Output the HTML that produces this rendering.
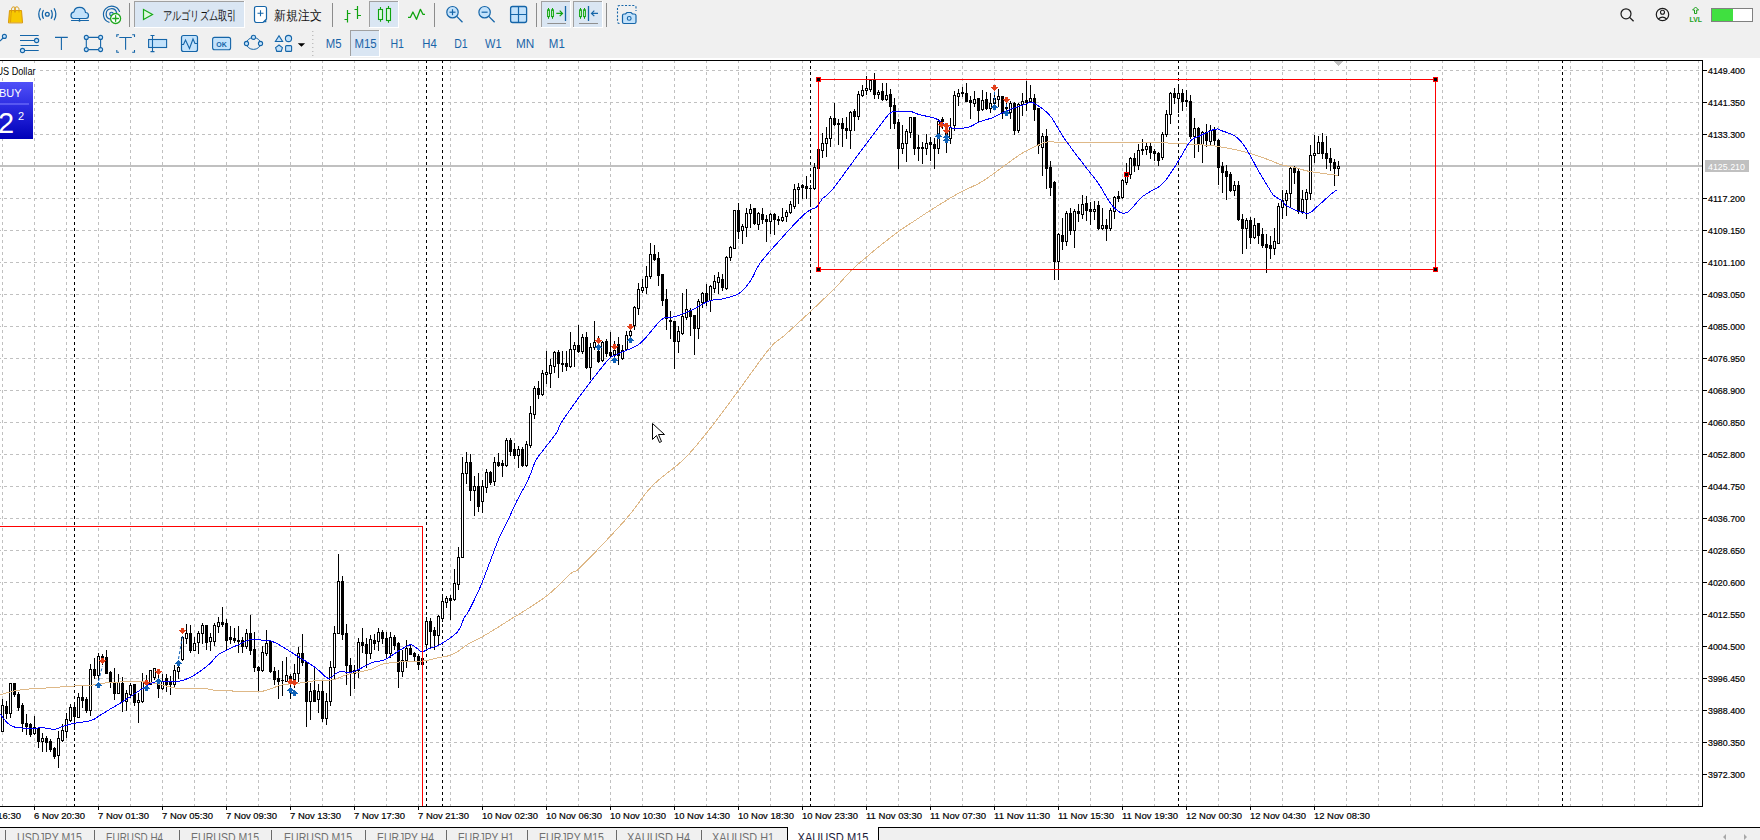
<!DOCTYPE html><html><head><meta charset="utf-8"><style>
html,body{margin:0;padding:0;}body{width:1760px;height:840px;overflow:hidden;background:#fff;position:relative;font-family:"Liberation Sans",sans-serif;}
svg{position:absolute;left:0;top:0;}
.t{font-family:"Liberation Sans",sans-serif;}
</style></head><body>
<svg width="1760" height="840" viewBox="0 0 1760 840">
<rect x="0" y="0" width="1760" height="58" fill="#f0f0f0"/>
<g id="toolbar"><g fill="none" stroke-linecap="round" stroke-linejoin="round"><path d="M8.5 22.5L9.5 10.5H21.5L22.5 22.5Z" fill="#f7c800" stroke="#d9980a" stroke-width="1"/><path d="M10.5 22L11.3 11" stroke="#d9980a" stroke-width="0.8"/><path d="M11.5 12V9.5C11.5 6 15.5 6 15.5 9.5V12M14.5 12V9.5C14.5 6 19 6 19 9.5V12" stroke="#d9980a" stroke-width="1"/><circle cx="47.3" cy="14.3" r="1.9" stroke="#1565a8" stroke-width="1.3"/><path d="M43.3 10.5Q41.3 14.3 43.3 18.3M51.3 10.5Q53.3 14.3 51.3 18.3M40.3 8.8Q37.2 14.3 40.3 19.8M54.3 8.8Q57.4 14.3 54.3 19.8" stroke="#1565a8" stroke-width="1.3"/><path d="M73.5 18.5H86Q88.5 18.5 88.5 15.5Q88.5 12.5 85.5 12.5Q85 7.3 79.5 7.3Q74.5 7.3 74 11.8Q71 12.3 71 15.3Q71 18.5 73.5 18.5Z" fill="#c3e2fb" stroke="#1565a8" stroke-width="1.2"/><path d="M71.5 20.5H88.5M79.5 18.5V20.5" stroke="#1565a8" stroke-width="1.2"/><circle cx="79.5" cy="20.7" r="1" fill="#1565a8"/><path d="M109 22.3A8.3 8.3 0 1 1 119.5 11.5M110.3 19.2A5.3 5.3 0 1 1 116.6 12.7" stroke="#1565a8" stroke-width="1.2"/><circle cx="111.5" cy="14" r="1.8" fill="#c3e2fb" stroke="#1565a8" stroke-width="1.1"/><circle cx="115.6" cy="18.5" r="5" fill="#fff" stroke="#1fa81f" stroke-width="1.3"/><path d="M115.6 15.7V21.3M112.8 18.5H118.4" stroke="#1fa81f" stroke-width="1.3"/></g><g shape-rendering="crispEdges"><rect x="129" y="3" width="1" height="24" fill="#8c8c8c"/><rect x="332" y="3" width="1" height="24" fill="#8c8c8c"/><rect x="434" y="3" width="1" height="24" fill="#8c8c8c"/><rect x="536" y="3" width="1" height="24" fill="#8c8c8c"/><rect x="606" y="3" width="1" height="24" fill="#8c8c8c"/><rect x="134" y="1" width="111" height="27" fill="#fff"/><rect x="134" y="1" width="110" height="26" fill="#a0a0a0"/><rect x="135" y="2" width="109" height="25" fill="#dae6f3"/><rect x="369" y="1" width="30" height="27" fill="#fff"/><rect x="369" y="1" width="29" height="26" fill="#a0a0a0"/><rect x="370" y="2" width="28" height="25" fill="#dae6f3"/><rect x="541" y="1" width="30" height="27" fill="#fff"/><rect x="541" y="1" width="29" height="26" fill="#a0a0a0"/><rect x="542" y="2" width="28" height="25" fill="#dae6f3"/><rect x="573" y="1" width="30" height="27" fill="#fff"/><rect x="573" y="1" width="29" height="26" fill="#a0a0a0"/><rect x="574" y="2" width="28" height="25" fill="#dae6f3"/><rect x="350" y="30" width="30" height="27" fill="#fff"/><rect x="350" y="30" width="29" height="26" fill="#a0a0a0"/><rect x="351" y="31" width="28" height="25" fill="#dae6f3"/></g><g fill="none" stroke-linecap="butt" stroke-linejoin="miter"><path d="M143.5 9.5L152.5 14.5L143.5 19.5Z" fill="#defadf" stroke="#18aa18" stroke-width="1.2"/><path d="M256.5 6.5H264.5Q266.5 6.5 266.5 8.5V19L263 22.5H256.5Q254.5 22.5 254.5 20.5V8.5Q254.5 6.5 256.5 6.5Z" fill="#fff" stroke="#1565a8" stroke-width="1.2"/><path d="M263.3 22.3L266.3 19.3V22.3Z" fill="#1565a8"/><path d="M260.5 10.3V16.3M257.5 13.3H263.5" stroke="#1565a8" stroke-width="1.1"/><path d="M347.5 10V22.5M344.5 19.5H347.5M347.5 13.5H350.5M357.5 6V19M354.5 9.5H357.5M357.5 15.5H361" stroke="#0fa30f" stroke-width="1.2"/><path d="M380.5 7V21.8M388.5 6V22.7" stroke="#0fa30f" stroke-width="1.1"/><rect x="378.5" y="9.5" width="4" height="10" fill="#defadf" stroke="#0fa30f" stroke-width="1.1"/><rect x="386.5" y="8.5" width="4" height="12" fill="#defadf" stroke="#0fa30f" stroke-width="1.1"/><polyline points="408,17.3 410.4,17.3 412.9,12 416.5,19.3 420.4,9.3 422.9,14.3 425,14.3" stroke="#0fa30f" stroke-width="1.3" stroke-linejoin="round"/><circle cx="452.5" cy="12.2" r="5.7" fill="#c3e2fb" stroke="#1565a8" stroke-width="1.2"/><path d="M456.7 16.4L462.5 22.3" stroke="#1565a8" stroke-width="1.3"/><path d="M449.5 12.2H455.5" stroke="#1565a8" stroke-width="1.2"/><path d="M452.5 9.2V15.2" stroke="#1565a8" stroke-width="1.2"/><circle cx="484.6" cy="12.2" r="5.7" fill="#c3e2fb" stroke="#1565a8" stroke-width="1.2"/><path d="M488.8 16.4L494.6 22.3" stroke="#1565a8" stroke-width="1.3"/><path d="M481.6 12.2H487.6" stroke="#1565a8" stroke-width="1.2"/><rect x="510.6" y="6.5" width="16" height="16" rx="2" fill="#c3e2fb" stroke="#1565a8" stroke-width="1.3"/><path d="M518.5 6.5V22.5M510.6 14.5H526.6" stroke="#1565a8" stroke-width="1.2"/><path d="M548.5 8V18.8" stroke="#0fa30f" stroke-width="1"/><rect x="547.6" y="9.8" width="1.8" height="6.8" fill="#defadf" stroke="#0fa30f" stroke-width="1"/><path d="M552.5 8V18.8" stroke="#0fa30f" stroke-width="1"/><rect x="551.6" y="9.8" width="1.8" height="6.8" fill="#defadf" stroke="#0fa30f" stroke-width="1"/><path d="M556.3 13.4H562.5M559.7 10.6L562.5 13.4L559.7 16.2" stroke="#0fa30f" stroke-width="1.2"/><path d="M565.5 6V21" stroke="#1565a8" stroke-width="1.3"/><path d="M547.3 23.5H566" stroke="#909090" stroke-width="1"/><path d="M580.5 8V18.8" stroke="#0fa30f" stroke-width="1"/><rect x="579.6" y="9.8" width="1.8" height="6.8" fill="#defadf" stroke="#0fa30f" stroke-width="1"/><path d="M584.5 8V18.8" stroke="#0fa30f" stroke-width="1"/><rect x="583.6" y="9.8" width="1.8" height="6.8" fill="#defadf" stroke="#0fa30f" stroke-width="1"/><path d="M588.5 6V21" stroke="#1565a8" stroke-width="1.3"/><path d="M598 13.4H591.5M594.3 10.6L591.5 13.4L594.3 16.2" stroke="#1565a8" stroke-width="1.2"/><path d="M579 23.5H598" stroke="#909090" stroke-width="1"/><path d="M619.5 23.5Q617.5 23.5 617.5 21.5V7.5Q617.5 5.5 619.5 5.5H634Q636 5.5 636 7.5V11" stroke="#1565a8" stroke-width="1.1" stroke-dasharray="2 1.6"/><path d="M622.5 15.5Q622.5 14 624 14H625.5L627 12.5H631L632.5 14H634Q636 14 636 15.5V22Q636 23.5 634.5 23.5H624Q622.5 23.5 622.5 22Z" fill="#c3e2fb" stroke="#1565a8" stroke-width="1.2"/><circle cx="629.2" cy="18.4" r="1.9" stroke="#1565a8" stroke-width="1.1"/><path d="M0 41L4 37" stroke="#1565a8" stroke-width="1.1"/><circle cx="4.4" cy="36.4" r="2" fill="#c3e2fb" stroke="#1565a8" stroke-width="1.1"/><path d="M20 35.5H38.7M20 40.5H34.5M20.5 45.5H38.7M24.5 50.5H38.7" stroke="#1565a8" stroke-width="1.1"/><circle cx="36.6" cy="40.5" r="2.1" fill="#c3e2fb" stroke="#1565a8" stroke-width="1.1"/><circle cx="22.5" cy="50.5" r="2.1" fill="#c3e2fb" stroke="#1565a8" stroke-width="1.1"/><path d="M55 37.4H67.8M61.4 37.4V50" stroke="#1565a8" stroke-width="1.1"/><path d="M86.3 37.4H100.6V49.6H86.3Z" stroke="#1565a8" stroke-width="1.1"/><circle cx="86.3" cy="37.4" r="2" fill="#c3e2fb" stroke="#1565a8" stroke-width="1.1"/><circle cx="100.6" cy="37.4" r="2" fill="#c3e2fb" stroke="#1565a8" stroke-width="1.1"/><circle cx="86.3" cy="49.6" r="2" fill="#c3e2fb" stroke="#1565a8" stroke-width="1.1"/><circle cx="100.6" cy="49.6" r="2" fill="#c3e2fb" stroke="#1565a8" stroke-width="1.1"/><path d="M116.8 37V34.8H119M132.2 34.8H134.5V37M116.8 50V52.3H119M132.2 52.3H134.5V50" stroke="#1565a8" stroke-width="1.1"/><path d="M119.3 37.5H131.8M125.6 37.5V49.8" stroke="#1565a8" stroke-width="1.1"/><rect x="148.6" y="39.5" width="18" height="8" fill="#c3e2fb" stroke="#1565a8" stroke-width="1.1"/><path d="M152.5 35.5V51.6M150.5 35.5H154.5M150.5 51.6H154.5" stroke="#1565a8" stroke-width="1.1"/><rect x="181.5" y="35.5" width="16" height="16" rx="2" fill="#c3e2fb" stroke="#1565a8" stroke-width="1.2"/><polyline points="181.5,44.5 183.5,44.5 185.5,40 189.5,48.5 193,39 195,43.5 197.5,43.5" stroke="#1565a8" stroke-width="1.1"/><rect x="212.6" y="37.4" width="18" height="12.4" rx="2" fill="#c3e2fb" stroke="#1565a8" stroke-width="1.1"/><text x="216.3" y="46.6" font-size="7" font-weight="bold" fill="#1565a8" stroke="none" font-family="Liberation Sans, sans-serif">OK</text><ellipse cx="253.5" cy="43.5" rx="7" ry="5.9" stroke="#1565a8" stroke-width="1"/><circle cx="253.5" cy="37.3" r="2.1" fill="#c3e2fb" stroke="#1565a8" stroke-width="1.1"/><circle cx="246.5" cy="43.5" r="2.1" fill="#c3e2fb" stroke="#1565a8" stroke-width="1.1"/><circle cx="260.5" cy="43.5" r="2.1" fill="#c3e2fb" stroke="#1565a8" stroke-width="1.1"/><path d="M279 35.8L275.4 41.5H282.6Z" fill="#c3e2fb" stroke="#1565a8" stroke-width="1.1"/><circle cx="288.5" cy="38.5" r="3.1" fill="#c3e2fb" stroke="#1565a8" stroke-width="1.1"/><path d="M279 45L282.4 47.6L281.2 51.4H276.8L275.6 47.6Z" fill="#c3e2fb" stroke="#1565a8" stroke-width="1.1"/><rect x="285.6" y="45.6" width="6" height="5.8" rx="1" fill="#c3e2fb" stroke="#1565a8" stroke-width="1.1"/><path d="M297.8 43.2H305.1L301.5 46.8Z" fill="#000"/><path d="M312.8 31V56" stroke="#a8a8a8" stroke-width="1" stroke-dasharray="1 3"/><circle cx="1626" cy="13.8" r="5" stroke="#1a1a1a" stroke-width="1.2"/><path d="M1629.6 17.4L1633.6 21.2" stroke="#1a1a1a" stroke-width="1.3"/><circle cx="1662.5" cy="14.5" r="6.2" stroke="#1a1a1a" stroke-width="1.2"/><circle cx="1662.5" cy="12.3" r="2" stroke="#1a1a1a" stroke-width="1.1"/><path d="M1658.3 19Q1662.5 15.3 1666.7 19" stroke="#1a1a1a" stroke-width="1.1"/><path d="M1695.6 7L1692.6 10H1694.5V13.5H1696.7V10H1698.6Z" stroke="#1aa01a" stroke-width="1"/><text x="1689.5" y="21.6" font-size="6.6" font-weight="bold" fill="#1aa01a" stroke="none" textLength="12.5" lengthAdjust="spacingAndGlyphs" font-family="Liberation Sans, sans-serif">LVL</text></g><g shape-rendering="crispEdges"><rect x="1711" y="8" width="42" height="14" fill="#808080"/><rect x="1712" y="9" width="40" height="12" fill="#fff"/><rect x="1712" y="9" width="21" height="12" fill="#40e040"/></g><text x="162.5" y="20" font-size="12.5" fill="#111" textLength="74" lengthAdjust="spacingAndGlyphs" font-family="Liberation Sans, sans-serif">アルゴリズム取引</text><text x="274" y="20" font-size="12.5" fill="#111" textLength="47.5" lengthAdjust="spacingAndGlyphs" font-family="Liberation Sans, sans-serif">新規注文</text><text x="325.8" y="48" font-size="12.5" fill="#1a64a8" textLength="15.8" lengthAdjust="spacingAndGlyphs" font-family="Liberation Sans, sans-serif">M5</text><text x="354.4" y="48" font-size="12.5" fill="#1a64a8" textLength="22.2" lengthAdjust="spacingAndGlyphs" font-family="Liberation Sans, sans-serif">M15</text><text x="390.5" y="48" font-size="12.5" fill="#1a64a8" textLength="13.5" lengthAdjust="spacingAndGlyphs" font-family="Liberation Sans, sans-serif">H1</text><text x="422.3" y="48" font-size="12.5" fill="#1a64a8" textLength="14.5" lengthAdjust="spacingAndGlyphs" font-family="Liberation Sans, sans-serif">H4</text><text x="454.2" y="48" font-size="12.5" fill="#1a64a8" textLength="13.5" lengthAdjust="spacingAndGlyphs" font-family="Liberation Sans, sans-serif">D1</text><text x="485" y="48" font-size="12.5" fill="#1a64a8" textLength="16.5" lengthAdjust="spacingAndGlyphs" font-family="Liberation Sans, sans-serif">W1</text><text x="516" y="48" font-size="12.5" fill="#1a64a8" textLength="18.3" lengthAdjust="spacingAndGlyphs" font-family="Liberation Sans, sans-serif">MN</text><text x="548.8" y="48" font-size="12.5" fill="#1a64a8" textLength="16.0" lengthAdjust="spacingAndGlyphs" font-family="Liberation Sans, sans-serif">M1</text></g>
<g shape-rendering="crispEdges">
<path d="M-2 70.5H1702 M-2 102.5H1702 M-2 134.5H1702 M-2 166.5H1702 M-2 198.5H1702 M-2 230.5H1702 M-2 262.5H1702 M-2 294.5H1702 M-2 326.5H1702 M-2 358.5H1702 M-2 390.5H1702 M-2 422.5H1702 M-2 454.5H1702 M-2 486.5H1702 M-2 518.5H1702 M-2 550.5H1702 M-2 582.5H1702 M-2 614.5H1702 M-2 646.5H1702 M-2 678.5H1702 M-2 710.5H1702 M-2 742.5H1702 M-2 774.5H1702" stroke="#c0c0c0" stroke-width="1" stroke-dasharray="3 3" fill="none"/>
<path d="M2.5 60V806 M34.5 60V806 M66.5 60V806 M98.5 60V806 M130.5 60V806 M162.5 60V806 M194.5 60V806 M226.5 60V806 M258.5 60V806 M290.5 60V806 M322.5 60V806 M354.5 60V806 M386.5 60V806 M418.5 60V806 M450.5 60V806 M482.5 60V806 M514.5 60V806 M546.5 60V806 M578.5 60V806 M610.5 60V806 M642.5 60V806 M674.5 60V806 M706.5 60V806 M738.5 60V806 M770.5 60V806 M802.5 60V806 M834.5 60V806 M866.5 60V806 M898.5 60V806 M930.5 60V806 M962.5 60V806 M994.5 60V806 M1026.5 60V806 M1058.5 60V806 M1090.5 60V806 M1122.5 60V806 M1154.5 60V806 M1186.5 60V806 M1218.5 60V806 M1250.5 60V806 M1282.5 60V806 M1314.5 60V806 M1346.5 60V806 M1378.5 60V806 M1410.5 60V806 M1442.5 60V806 M1474.5 60V806 M1506.5 60V806 M1538.5 60V806 M1570.5 60V806 M1602.5 60V806 M1634.5 60V806 M1666.5 60V806 M1698.5 60V806" stroke="#c0c0c0" stroke-width="1" stroke-dasharray="3 3" fill="none"/>
<path d="M74.5 60V806 M426.5 60V806 M442.5 60V806 M810.5 60V806 M1178.5 60V806 M1562.5 60V806" stroke="#000" stroke-width="1" stroke-dasharray="3 3" fill="none"/>
</g>
<rect x="0" y="165" width="1702" height="2" fill="#c0c0c0"/>
<g shape-rendering="crispEdges">
<path d="M2.5 699V732 M6.5 701V719 M10.5 683V718 M14.5 683V697 M18.5 692V711 M22.5 703V732 M26.5 714V735 M30.5 723V737 M34.5 716V735 M38.5 727V748 M42.5 733V752 M46.5 736V752 M50.5 739V752 M54.5 747V759 M58.5 731V768 M62.5 724V742 M66.5 713V738 M70.5 704V722 M74.5 703V730 M78.5 693V718 M82.5 686V708 M86.5 697V713 M90.5 664V716 M94.5 658V679 M98.5 653V680 M102.5 654V665 M106.5 650V674 M110.5 671V688 M114.5 668V700 M118.5 674V694 M122.5 677V712 M126.5 690V711 M130.5 683V698 M134.5 684V706 M138.5 693V723 M142.5 673V703 M146.5 675V688 M150.5 670V685 M154.5 668V680 M158.5 673V698 M162.5 674V690 M166.5 674V692 M170.5 676V695 M174.5 665V687 M178.5 665V679 M182.5 636V661 M186.5 624V644 M190.5 625V653 M194.5 637V651 M198.5 631V654 M202.5 623V644 M206.5 625V650 M210.5 633V651 M214.5 623V646 M218.5 617V633 M222.5 607V627 M226.5 619V650 M230.5 626V644 M234.5 628V643 M238.5 626V653 M242.5 637V653 M246.5 629V649 M250.5 615V655 M254.5 632V672 M258.5 666V691 M262.5 646V672 M266.5 630V656 M270.5 640V673 M274.5 667V685 M278.5 670V699 M282.5 661V696 M286.5 657V682 M290.5 674V699 M294.5 664V688 M298.5 647V682 M302.5 634V666 M306.5 661V727 M310.5 683V720 M314.5 668V702 M318.5 684V713 M322.5 681V722 M326.5 693V725 M330.5 661V706 M334.5 626V680 M338.5 554V634 M342.5 576V640 M346.5 624V685 M350.5 658V696 M354.5 665V689 M358.5 638V678 M362.5 628V653 M366.5 638V668 M370.5 635V659 M374.5 634V650 M378.5 628V651 M382.5 630V644 M386.5 632V658 M390.5 632V658 M394.5 635V650 M398.5 642V688 M402.5 650V677 M406.5 640V668 M410.5 645V655 M414.5 652V661 M418.5 654V670 M422.5 656V666 M426.5 617V651 M430.5 618V648 M434.5 627V650 M438.5 615V645 M442.5 595V622 M446.5 596V608 M450.5 595V620 M454.5 569V601 M458.5 547V590 M462.5 457V558 M466.5 452V484 M470.5 454V501 M474.5 476V516 M478.5 473V512 M482.5 480V513 M486.5 469V493 M490.5 471V485 M494.5 457V486 M498.5 453V467 M502.5 460V477 M506.5 438V467 M510.5 438V456 M514.5 443V459 M518.5 446V468 M522.5 447V467 M526.5 441V467 M530.5 406V448 M534.5 386V419 M538.5 381V399 M542.5 370V396 M546.5 351V384 M550.5 359V388 M554.5 351V373 M558.5 350V378 M562.5 351V372 M566.5 351V371 M570.5 332V368 M574.5 342V367 M578.5 325V353 M582.5 334V354 M586.5 332V369 M590.5 343V380 M594.5 321V350 M598.5 336V363 M602.5 341V362 M606.5 339V357 M610.5 332V357 M614.5 341V359 M618.5 337V365 M622.5 345V360 M626.5 331V350 M630.5 330V337 M634.5 306V330 M638.5 283V315 M642.5 279V293 M646.5 266V294 M650.5 243V279 M654.5 245V261 M658.5 252V286 M662.5 274V306 M666.5 289V330 M670.5 311V339 M674.5 321V369 M678.5 326V353 M682.5 293V335 M686.5 289V320 M690.5 308V336 M694.5 315V355 M698.5 299V339 M702.5 292V308 M706.5 284V306 M710.5 285V312 M714.5 275V293 M718.5 272V294 M722.5 274V291 M726.5 256V290 M730.5 246V261 M734.5 210V249 M738.5 203V239 M742.5 224V244 M746.5 208V237 M750.5 204V228 M754.5 208V225 M758.5 212V230 M762.5 208V224 M766.5 215V242 M770.5 213V234 M774.5 213V235 M778.5 216V225 M782.5 208V222 M786.5 210V222 M790.5 201V214 M794.5 184V209 M798.5 183V204 M802.5 184V199 M806.5 176V199 M810.5 185V204 M814.5 163V190 M818.5 149V169 M822.5 133V158 M826.5 127V157 M830.5 116V147 M834.5 103V126 M838.5 119V145 M842.5 118V147 M846.5 117V139 M850.5 111V149 M854.5 109V131 M858.5 91V120 M862.5 85V97 M866.5 76V95 M870.5 79V92 M874.5 73V99 M878.5 90V99 M882.5 83V101 M886.5 83V101 M890.5 89V129 M894.5 98V129 M898.5 119V169 M902.5 125V154 M906.5 129V162 M910.5 117V138 M914.5 117V155 M918.5 135V161 M922.5 142V164 M926.5 134V155 M930.5 137V161 M934.5 138V169 M938.5 119V154 M942.5 117V129 M946.5 123V153 M950.5 118V144 M954.5 91V131 M958.5 89V106 M962.5 87V97 M966.5 83V102 M970.5 96V119 M974.5 91V107 M978.5 98V122 M982.5 90V111 M986.5 92V110 M990.5 93V113 M994.5 93V105 M998.5 89V107 M1002.5 96V119 M1006.5 100V110 M1010.5 101V119 M1014.5 102V135 M1018.5 103V133 M1022.5 93V116 M1026.5 81V111 M1030.5 85V103 M1034.5 94V121 M1038.5 108V154 M1042.5 133V176 M1046.5 129V189 M1050.5 161V196 M1054.5 181V280 M1058.5 233V280 M1062.5 218V250 M1066.5 211V246 M1070.5 208V235 M1074.5 209V248 M1078.5 204V222 M1082.5 195V219 M1086.5 196V221 M1090.5 202V225 M1094.5 201V220 M1098.5 201V230 M1102.5 208V230 M1106.5 219V241 M1110.5 208V231 M1114.5 196V219 M1118.5 191V202 M1122.5 179V199 M1126.5 163V185 M1130.5 157V179 M1134.5 153V172 M1138.5 144V170 M1142.5 139V155 M1146.5 143V155 M1150.5 143V159 M1154.5 149V161 M1158.5 152V166 M1162.5 132V160 M1166.5 110V137 M1170.5 92V124 M1174.5 88V104 M1178.5 84V113 M1182.5 89V111 M1186.5 90V107 M1190.5 95V139 M1194.5 118V158 M1198.5 127V152 M1202.5 131V163 M1206.5 124V147 M1210.5 125V145 M1214.5 127V145 M1218.5 139V185 M1222.5 162V193 M1226.5 165V200 M1230.5 172V192 M1234.5 181V196 M1238.5 181V221 M1242.5 214V254 M1246.5 218V249 M1250.5 217V244 M1254.5 218V239 M1258.5 223V244 M1262.5 228V248 M1266.5 234V273 M1270.5 236V259 M1274.5 228V255 M1278.5 203V244 M1282.5 190V219 M1286.5 190V216 M1290.5 166V207 M1294.5 166V184 M1298.5 169V214 M1302.5 190V214 M1306.5 189V219 M1310.5 145V200 M1314.5 135V163 M1318.5 136V154 M1322.5 133V159 M1326.5 136V169 M1330.5 148V171 M1334.5 159V186 M1338.5 161V176" stroke="#000" stroke-width="1" fill="none"/>
<rect x="1.5" y="705.5" width="2" height="26" fill="#fff" stroke="#000" stroke-width="1"/><rect x="9.5" y="683.5" width="2" height="30" fill="#fff" stroke="#000" stroke-width="1"/><rect x="33.5" y="727.5" width="2" height="6" fill="#fff" stroke="#000" stroke-width="1"/><rect x="41.5" y="738.5" width="2" height="3" fill="#fff" stroke="#000" stroke-width="1"/><rect x="57.5" y="738.5" width="2" height="17" fill="#fff" stroke="#000" stroke-width="1"/><rect x="61.5" y="730.5" width="2" height="10" fill="#fff" stroke="#000" stroke-width="1"/><rect x="65.5" y="719.5" width="2" height="12" fill="#fff" stroke="#000" stroke-width="1"/><rect x="69.5" y="707.5" width="2" height="13" fill="#fff" stroke="#000" stroke-width="1"/><rect x="77.5" y="697.5" width="2" height="20" fill="#fff" stroke="#000" stroke-width="1"/><rect x="89.5" y="669.5" width="2" height="41" fill="#fff" stroke="#000" stroke-width="1"/><rect x="97.5" y="656.5" width="2" height="19" fill="#fff" stroke="#000" stroke-width="1"/><rect x="117.5" y="682.5" width="2" height="11" fill="#fff" stroke="#000" stroke-width="1"/><rect x="125.5" y="693.5" width="2" height="8" fill="#fff" stroke="#000" stroke-width="1"/><rect x="129.5" y="685.5" width="2" height="9" fill="#fff" stroke="#000" stroke-width="1"/><rect x="137.5" y="700.5" width="2" height="2" fill="#fff" stroke="#000" stroke-width="1"/><rect x="141.5" y="681.5" width="2" height="20" fill="#fff" stroke="#000" stroke-width="1"/><rect x="149.5" y="670.5" width="2" height="14" fill="#fff" stroke="#000" stroke-width="1"/><rect x="153.5" y="668.5" width="2" height="9" fill="#fff" stroke="#000" stroke-width="1"/><rect x="161.5" y="681.5" width="2" height="7" fill="#fff" stroke="#000" stroke-width="1"/><rect x="173.5" y="670.5" width="2" height="14" fill="#fff" stroke="#000" stroke-width="1"/><rect x="177.5" y="667.5" width="2" height="4" fill="#fff" stroke="#000" stroke-width="1"/><rect x="181.5" y="637.5" width="2" height="22" fill="#fff" stroke="#000" stroke-width="1"/><rect x="185.5" y="633.5" width="2" height="5" fill="#fff" stroke="#000" stroke-width="1"/><rect x="193.5" y="643.5" width="2" height="7" fill="#fff" stroke="#000" stroke-width="1"/><rect x="197.5" y="633.5" width="2" height="9" fill="#fff" stroke="#000" stroke-width="1"/><rect x="201.5" y="625.5" width="2" height="8" fill="#fff" stroke="#000" stroke-width="1"/><rect x="209.5" y="637.5" width="2" height="4" fill="#fff" stroke="#000" stroke-width="1"/><rect x="213.5" y="625.5" width="2" height="16" fill="#fff" stroke="#000" stroke-width="1"/><rect x="217.5" y="622.5" width="2" height="4" fill="#fff" stroke="#000" stroke-width="1"/><rect x="245.5" y="633.5" width="2" height="13" fill="#fff" stroke="#000" stroke-width="1"/><rect x="261.5" y="652.5" width="2" height="18" fill="#fff" stroke="#000" stroke-width="1"/><rect x="265.5" y="643.5" width="2" height="10" fill="#fff" stroke="#000" stroke-width="1"/><rect x="285.5" y="675.5" width="2" height="6" fill="#fff" stroke="#000" stroke-width="1"/><rect x="293.5" y="673.5" width="2" height="6" fill="#fff" stroke="#000" stroke-width="1"/><rect x="297.5" y="653.5" width="2" height="20" fill="#fff" stroke="#000" stroke-width="1"/><rect x="309.5" y="691.5" width="2" height="10" fill="#fff" stroke="#000" stroke-width="1"/><rect x="317.5" y="691.5" width="2" height="8" fill="#fff" stroke="#000" stroke-width="1"/><rect x="325.5" y="701.5" width="2" height="17" fill="#fff" stroke="#000" stroke-width="1"/><rect x="329.5" y="667.5" width="2" height="34" fill="#fff" stroke="#000" stroke-width="1"/><rect x="333.5" y="633.5" width="2" height="34" fill="#fff" stroke="#000" stroke-width="1"/><rect x="337.5" y="581.5" width="2" height="52" fill="#fff" stroke="#000" stroke-width="1"/><rect x="353.5" y="670.5" width="2" height="3" fill="#fff" stroke="#000" stroke-width="1"/><rect x="357.5" y="642.5" width="2" height="28" fill="#fff" stroke="#000" stroke-width="1"/><rect x="369.5" y="639.5" width="2" height="14" fill="#fff" stroke="#000" stroke-width="1"/><rect x="377.5" y="632.5" width="2" height="9" fill="#fff" stroke="#000" stroke-width="1"/><rect x="389.5" y="637.5" width="2" height="16" fill="#fff" stroke="#000" stroke-width="1"/><rect x="401.5" y="660.5" width="2" height="11" fill="#fff" stroke="#000" stroke-width="1"/><rect x="405.5" y="648.5" width="2" height="12" fill="#fff" stroke="#000" stroke-width="1"/><rect x="425.5" y="621.5" width="2" height="23" fill="#fff" stroke="#000" stroke-width="1"/><rect x="437.5" y="616.5" width="2" height="19" fill="#fff" stroke="#000" stroke-width="1"/><rect x="441.5" y="601.5" width="2" height="17" fill="#fff" stroke="#000" stroke-width="1"/><rect x="445.5" y="598.5" width="2" height="4" fill="#fff" stroke="#000" stroke-width="1"/><rect x="453.5" y="583.5" width="2" height="16" fill="#fff" stroke="#000" stroke-width="1"/><rect x="457.5" y="557.5" width="2" height="27" fill="#fff" stroke="#000" stroke-width="1"/><rect x="461.5" y="473.5" width="2" height="84" fill="#fff" stroke="#000" stroke-width="1"/><rect x="465.5" y="462.5" width="2" height="11" fill="#fff" stroke="#000" stroke-width="1"/><rect x="473.5" y="486.5" width="2" height="4" fill="#fff" stroke="#000" stroke-width="1"/><rect x="481.5" y="486.5" width="2" height="15" fill="#fff" stroke="#000" stroke-width="1"/><rect x="485.5" y="472.5" width="2" height="15" fill="#fff" stroke="#000" stroke-width="1"/><rect x="493.5" y="462.5" width="2" height="19" fill="#fff" stroke="#000" stroke-width="1"/><rect x="505.5" y="440.5" width="2" height="25" fill="#fff" stroke="#000" stroke-width="1"/><rect x="517.5" y="449.5" width="2" height="6" fill="#fff" stroke="#000" stroke-width="1"/><rect x="525.5" y="444.5" width="2" height="21" fill="#fff" stroke="#000" stroke-width="1"/><rect x="529.5" y="413.5" width="2" height="32" fill="#fff" stroke="#000" stroke-width="1"/><rect x="533.5" y="388.5" width="2" height="26" fill="#fff" stroke="#000" stroke-width="1"/><rect x="541.5" y="373.5" width="2" height="21" fill="#fff" stroke="#000" stroke-width="1"/><rect x="545.5" y="372.5" width="2" height="2" fill="#fff" stroke="#000" stroke-width="1"/><rect x="549.5" y="365.5" width="2" height="8" fill="#fff" stroke="#000" stroke-width="1"/><rect x="553.5" y="352.5" width="2" height="14" fill="#fff" stroke="#000" stroke-width="1"/><rect x="569.5" y="349.5" width="2" height="17" fill="#fff" stroke="#000" stroke-width="1"/><rect x="573.5" y="345.5" width="2" height="4" fill="#fff" stroke="#000" stroke-width="1"/><rect x="581.5" y="337.5" width="2" height="14" fill="#fff" stroke="#000" stroke-width="1"/><rect x="589.5" y="347.5" width="2" height="20" fill="#fff" stroke="#000" stroke-width="1"/><rect x="593.5" y="342.5" width="2" height="5" fill="#fff" stroke="#000" stroke-width="1"/><rect x="601.5" y="342.5" width="2" height="18" fill="#fff" stroke="#000" stroke-width="1"/><rect x="613.5" y="350.5" width="2" height="4" fill="#fff" stroke="#000" stroke-width="1"/><rect x="621.5" y="350.5" width="2" height="8" fill="#fff" stroke="#000" stroke-width="1"/><rect x="625.5" y="335.5" width="2" height="14" fill="#fff" stroke="#000" stroke-width="1"/><rect x="629.5" y="331.5" width="2" height="4" fill="#fff" stroke="#000" stroke-width="1"/><rect x="633.5" y="307.5" width="2" height="18" fill="#fff" stroke="#000" stroke-width="1"/><rect x="637.5" y="289.5" width="2" height="19" fill="#fff" stroke="#000" stroke-width="1"/><rect x="641.5" y="287.5" width="2" height="3" fill="#fff" stroke="#000" stroke-width="1"/><rect x="645.5" y="276.5" width="2" height="11" fill="#fff" stroke="#000" stroke-width="1"/><rect x="649.5" y="254.5" width="2" height="22" fill="#fff" stroke="#000" stroke-width="1"/><rect x="677.5" y="331.5" width="2" height="10" fill="#fff" stroke="#000" stroke-width="1"/><rect x="681.5" y="316.5" width="2" height="17" fill="#fff" stroke="#000" stroke-width="1"/><rect x="685.5" y="309.5" width="2" height="8" fill="#fff" stroke="#000" stroke-width="1"/><rect x="697.5" y="301.5" width="2" height="27" fill="#fff" stroke="#000" stroke-width="1"/><rect x="701.5" y="293.5" width="2" height="9" fill="#fff" stroke="#000" stroke-width="1"/><rect x="709.5" y="286.5" width="2" height="14" fill="#fff" stroke="#000" stroke-width="1"/><rect x="713.5" y="281.5" width="2" height="7" fill="#fff" stroke="#000" stroke-width="1"/><rect x="717.5" y="277.5" width="2" height="5" fill="#fff" stroke="#000" stroke-width="1"/><rect x="725.5" y="257.5" width="2" height="31" fill="#fff" stroke="#000" stroke-width="1"/><rect x="729.5" y="247.5" width="2" height="10" fill="#fff" stroke="#000" stroke-width="1"/><rect x="733.5" y="210.5" width="2" height="38" fill="#fff" stroke="#000" stroke-width="1"/><rect x="741.5" y="226.5" width="2" height="4" fill="#fff" stroke="#000" stroke-width="1"/><rect x="745.5" y="213.5" width="2" height="14" fill="#fff" stroke="#000" stroke-width="1"/><rect x="749.5" y="209.5" width="2" height="4" fill="#fff" stroke="#000" stroke-width="1"/><rect x="757.5" y="213.5" width="2" height="11" fill="#fff" stroke="#000" stroke-width="1"/><rect x="769.5" y="214.5" width="2" height="7" fill="#fff" stroke="#000" stroke-width="1"/><rect x="781.5" y="217.5" width="2" height="3" fill="#fff" stroke="#000" stroke-width="1"/><rect x="785.5" y="212.5" width="2" height="4" fill="#fff" stroke="#000" stroke-width="1"/><rect x="789.5" y="204.5" width="2" height="8" fill="#fff" stroke="#000" stroke-width="1"/><rect x="793.5" y="189.5" width="2" height="17" fill="#fff" stroke="#000" stroke-width="1"/><rect x="797.5" y="187.5" width="2" height="2" fill="#fff" stroke="#000" stroke-width="1"/><rect x="813.5" y="167.5" width="2" height="21" fill="#fff" stroke="#000" stroke-width="1"/><rect x="821.5" y="143.5" width="2" height="7" fill="#fff" stroke="#000" stroke-width="1"/><rect x="825.5" y="138.5" width="2" height="5" fill="#fff" stroke="#000" stroke-width="1"/><rect x="829.5" y="118.5" width="2" height="20" fill="#fff" stroke="#000" stroke-width="1"/><rect x="837" y="123" width="3" height="2" fill="#000"/><rect x="849.5" y="112.5" width="2" height="18" fill="#fff" stroke="#000" stroke-width="1"/><rect x="857.5" y="94.5" width="2" height="22" fill="#fff" stroke="#000" stroke-width="1"/><rect x="861.5" y="90.5" width="2" height="5" fill="#fff" stroke="#000" stroke-width="1"/><rect x="865.5" y="88.5" width="2" height="2" fill="#fff" stroke="#000" stroke-width="1"/><rect x="869.5" y="80.5" width="2" height="9" fill="#fff" stroke="#000" stroke-width="1"/><rect x="877.5" y="92.5" width="2" height="2" fill="#fff" stroke="#000" stroke-width="1"/><rect x="885.5" y="95.5" width="2" height="4" fill="#fff" stroke="#000" stroke-width="1"/><rect x="901.5" y="143.5" width="2" height="5" fill="#fff" stroke="#000" stroke-width="1"/><rect x="905.5" y="131.5" width="2" height="12" fill="#fff" stroke="#000" stroke-width="1"/><rect x="909.5" y="117.5" width="2" height="15" fill="#fff" stroke="#000" stroke-width="1"/><rect x="925.5" y="143.5" width="2" height="5" fill="#fff" stroke="#000" stroke-width="1"/><rect x="937.5" y="121.5" width="2" height="27" fill="#fff" stroke="#000" stroke-width="1"/><rect x="945.5" y="127.5" width="2" height="11" fill="#fff" stroke="#000" stroke-width="1"/><rect x="949.5" y="127.5" width="2" height="11" fill="#fff" stroke="#000" stroke-width="1"/><rect x="953.5" y="95.5" width="2" height="30" fill="#fff" stroke="#000" stroke-width="1"/><rect x="957.5" y="93.5" width="2" height="3" fill="#fff" stroke="#000" stroke-width="1"/><rect x="973.5" y="99.5" width="2" height="4" fill="#fff" stroke="#000" stroke-width="1"/><rect x="981.5" y="100.5" width="2" height="9" fill="#fff" stroke="#000" stroke-width="1"/><rect x="989.5" y="103.5" width="2" height="5" fill="#fff" stroke="#000" stroke-width="1"/><rect x="993.5" y="98.5" width="2" height="5" fill="#fff" stroke="#000" stroke-width="1"/><rect x="997.5" y="96.5" width="2" height="3" fill="#fff" stroke="#000" stroke-width="1"/><rect x="1009.5" y="103.5" width="2" height="9" fill="#fff" stroke="#000" stroke-width="1"/><rect x="1017.5" y="104.5" width="2" height="26" fill="#fff" stroke="#000" stroke-width="1"/><rect x="1021.5" y="101.5" width="2" height="3" fill="#fff" stroke="#000" stroke-width="1"/><rect x="1029.5" y="98.5" width="2" height="3" fill="#fff" stroke="#000" stroke-width="1"/><rect x="1041.5" y="136.5" width="2" height="11" fill="#fff" stroke="#000" stroke-width="1"/><rect x="1057.5" y="234.5" width="2" height="27" fill="#fff" stroke="#000" stroke-width="1"/><rect x="1065.5" y="213.5" width="2" height="28" fill="#fff" stroke="#000" stroke-width="1"/><rect x="1073.5" y="211.5" width="2" height="19" fill="#fff" stroke="#000" stroke-width="1"/><rect x="1081.5" y="204.5" width="2" height="10" fill="#fff" stroke="#000" stroke-width="1"/><rect x="1093.5" y="209.5" width="2" height="2" fill="#fff" stroke="#000" stroke-width="1"/><rect x="1101.5" y="225.5" width="2" height="3" fill="#fff" stroke="#000" stroke-width="1"/><rect x="1109.5" y="210.5" width="2" height="18" fill="#fff" stroke="#000" stroke-width="1"/><rect x="1113.5" y="197.5" width="2" height="14" fill="#fff" stroke="#000" stroke-width="1"/><rect x="1121.5" y="180.5" width="2" height="17" fill="#fff" stroke="#000" stroke-width="1"/><rect x="1125.5" y="172.5" width="2" height="10" fill="#fff" stroke="#000" stroke-width="1"/><rect x="1129.5" y="158.5" width="2" height="16" fill="#fff" stroke="#000" stroke-width="1"/><rect x="1137.5" y="150.5" width="2" height="15" fill="#fff" stroke="#000" stroke-width="1"/><rect x="1145.5" y="146.5" width="2" height="3" fill="#fff" stroke="#000" stroke-width="1"/><rect x="1161.5" y="134.5" width="2" height="23" fill="#fff" stroke="#000" stroke-width="1"/><rect x="1165.5" y="114.5" width="2" height="20" fill="#fff" stroke="#000" stroke-width="1"/><rect x="1169.5" y="93.5" width="2" height="21" fill="#fff" stroke="#000" stroke-width="1"/><rect x="1177.5" y="93.5" width="2" height="5" fill="#fff" stroke="#000" stroke-width="1"/><rect x="1193.5" y="128.5" width="2" height="8" fill="#fff" stroke="#000" stroke-width="1"/><rect x="1201.5" y="132.5" width="2" height="12" fill="#fff" stroke="#000" stroke-width="1"/><rect x="1209.5" y="130.5" width="2" height="11" fill="#fff" stroke="#000" stroke-width="1"/><rect x="1233.5" y="185.5" width="2" height="5" fill="#fff" stroke="#000" stroke-width="1"/><rect x="1245.5" y="220.5" width="2" height="8" fill="#fff" stroke="#000" stroke-width="1"/><rect x="1253.5" y="225.5" width="2" height="12" fill="#fff" stroke="#000" stroke-width="1"/><rect x="1273.5" y="241.5" width="2" height="7" fill="#fff" stroke="#000" stroke-width="1"/><rect x="1277.5" y="206.5" width="2" height="37" fill="#fff" stroke="#000" stroke-width="1"/><rect x="1281.5" y="200.5" width="2" height="7" fill="#fff" stroke="#000" stroke-width="1"/><rect x="1285.5" y="193.5" width="2" height="7" fill="#fff" stroke="#000" stroke-width="1"/><rect x="1289.5" y="168.5" width="2" height="25" fill="#fff" stroke="#000" stroke-width="1"/><rect x="1301.5" y="199.5" width="2" height="12" fill="#fff" stroke="#000" stroke-width="1"/><rect x="1305.5" y="192.5" width="2" height="7" fill="#fff" stroke="#000" stroke-width="1"/><rect x="1309.5" y="155.5" width="2" height="38" fill="#fff" stroke="#000" stroke-width="1"/><rect x="1313.5" y="153.5" width="2" height="2" fill="#fff" stroke="#000" stroke-width="1"/><rect x="1317.5" y="142.5" width="2" height="11" fill="#fff" stroke="#000" stroke-width="1"/><rect x="1337.5" y="166.5" width="2" height="2" fill="#fff" stroke="#000" stroke-width="1"/>
<path d="M5 706h3v8h-3z M13 683h3v12h-3z M17 694h3v14h-3z M21 705h3v19h-3z M25 723h3v4h-3z M29 724h3v11h-3z M37 728h3v14h-3z M45 738h3v5h-3z M49 741h3v9h-3z M53 748h3v9h-3z M73 707h3v10h-3z M81 697h3v4h-3z M85 699h3v12h-3z M93 669h3v7h-3z M101 656h3v3h-3z M105 657h3v17h-3z M109 672h3v11h-3z M113 683h3v11h-3z M121 683h3v19h-3z M133 684h3v19h-3z M145 681h3v4h-3z M157 684h3v5h-3z M165 678h3v7h-3z M169 681h3v4h-3z M189 633h3v18h-3z M205 625h3v18h-3z M221 622h3v3h-3z M225 623h3v18h-3z M229 637h3v3h-3z M233 638h3v3h-3z M237 640h3v2h-3z M241 640h3v7h-3z M249 633h3v18h-3z M253 649h3v19h-3z M257 667h3v4h-3z M269 641h3v31h-3z M273 671h3v9h-3z M277 678h3v4h-3z M281 680h3v1h-3z M289 676h3v3h-3z M301 653h3v10h-3z M305 662h3v40h-3z M313 690h3v12h-3z M321 691h3v28h-3z M341 581h3v54h-3z M345 633h3v33h-3z M349 665h3v9h-3z M361 642h3v4h-3z M365 644h3v10h-3z M373 640h3v4h-3z M381 632h3v7h-3z M385 638h3v16h-3z M393 637h3v9h-3z M397 643h3v29h-3z M409 648h3v7h-3z M413 653h3v4h-3z M417 656h3v9h-3z M421 658h3v7h-3z M429 621h3v11h-3z M433 630h3v6h-3z M449 598h3v3h-3z M469 462h3v29h-3z M477 486h3v21h-3z M489 472h3v11h-3z M497 462h3v4h-3z M501 463h3v3h-3z M509 440h3v12h-3z M513 449h3v7h-3z M521 449h3v17h-3z M537 388h3v7h-3z M557 352h3v12h-3z M561 363h3v2h-3z M565 363h3v4h-3z M577 345h3v7h-3z M585 337h3v31h-3z M597 351h3v11h-3z M605 341h3v13h-3z M609 352h3v4h-3z M617 344h3v12h-3z M653 254h3v6h-3z M657 258h3v18h-3z M661 274h3v27h-3z M665 299h3v20h-3z M669 320h3v2h-3z M673 321h3v21h-3z M689 310h3v7h-3z M693 315h3v14h-3z M705 293h3v9h-3z M721 279h3v9h-3z M737 210h3v22h-3z M753 208h3v16h-3z M761 214h3v6h-3z M765 219h3v3h-3z M773 214h3v6h-3z M777 219h3v2h-3z M801 185h3v3h-3z M805 186h3v3h-3z M809 188h3v1h-3z M817 149h3v20h-3z M833 118h3v7h-3z M841 123h3v6h-3z M845 128h3v3h-3z M853 111h3v6h-3z M873 80h3v15h-3z M881 91h3v9h-3z M889 94h3v13h-3z M893 105h3v19h-3z M897 122h3v27h-3z M913 117h3v32h-3z M917 147h3v2h-3z M921 147h3v2h-3z M929 142h3v3h-3z M933 144h3v5h-3z M941 119h3v3h-3z M961 92h3v2h-3z M965 93h3v9h-3z M969 100h3v3h-3z M977 98h3v13h-3z M985 99h3v10h-3z M1001 96h3v17h-3z M1005 107h3v2h-3z M1013 103h3v28h-3z M1025 100h3v3h-3z M1033 98h3v12h-3z M1037 108h3v38h-3z M1045 136h3v33h-3z M1049 167h3v21h-3z M1053 182h3v80h-3z M1061 235h3v7h-3z M1069 213h3v18h-3z M1077 211h3v3h-3z M1085 203h3v8h-3z M1089 209h3v3h-3z M1097 205h3v24h-3z M1105 225h3v4h-3z M1117 196h3v3h-3z M1133 158h3v8h-3z M1141 149h3v2h-3z M1149 146h3v7h-3z M1153 151h3v3h-3z M1157 153h3v8h-3z M1173 93h3v5h-3z M1181 93h3v9h-3z M1185 100h3v2h-3z M1189 101h3v36h-3z M1197 128h3v17h-3z M1205 132h3v9h-3z M1213 129h3v12h-3z M1217 140h3v28h-3z M1221 166h3v7h-3z M1225 171h3v6h-3z M1229 174h3v17h-3z M1237 185h3v35h-3z M1241 219h3v10h-3z M1249 220h3v18h-3z M1257 223h3v13h-3z M1261 234h3v12h-3z M1265 244h3v4h-3z M1269 245h3v4h-3z M1293 168h3v5h-3z M1297 171h3v41h-3z M1321 142h3v12h-3z M1325 153h3v6h-3z M1329 158h3v5h-3z M1333 162h3v7h-3z" fill="#000"/>
</g>
<g id="ind"><polyline points="0.0,695.0 1.24,694.62 2.89,694.1 4.86,693.47 7.06,692.8 9.37,692.13 11.72,691.51 14.0,691.0 16.0,690.63 18.09,690.29 20.24,689.98 22.44,689.7 24.64,689.44 26.82,689.21 28.95,689.0 31.0,688.8 33.13,688.62 35.05,688.5 36.89,688.42 38.77,688.35 40.83,688.28 43.19,688.17 46.0,688.0 47.63,687.89 49.41,687.77 51.34,687.63 53.37,687.48 55.49,687.33 57.67,687.16 59.88,687.0 62.09,686.84 64.28,686.67 66.42,686.52 68.49,686.37 70.46,686.23 72.31,686.11 74.0,686.0 76.65,685.85 79.02,685.76 81.18,685.69 83.19,685.64 85.11,685.58 87.01,685.5 88.95,685.38 91.0,685.2 93.16,684.95 95.37,684.63 97.59,684.27 99.81,683.89 101.99,683.51 104.1,683.15 106.11,682.84 108.0,682.6 110.29,682.38 112.37,682.24 114.31,682.15 116.19,682.1 118.06,682.05 120.0,682.0 122.02,681.95 124.07,681.91 126.12,681.89 128.15,681.87 130.12,681.85 132.0,681.8 134.06,681.67 135.95,681.49 137.81,681.31 139.78,681.23 142.0,681.3 143.83,681.48 145.83,681.75 147.93,682.08 150.07,682.46 152.17,682.85 154.17,683.24 156.0,683.6 158.24,684.08 160.24,684.56 162.12,685.05 164.0,685.53 166.0,686.0 167.88,686.48 169.56,686.99 171.4,687.47 173.76,687.88 177.0,688.2 178.6,688.28 180.45,688.34 182.51,688.37 184.72,688.39 187.04,688.4 189.42,688.4 191.83,688.39 194.2,688.38 196.5,688.38 198.67,688.39 200.68,688.41 202.47,688.44 204.0,688.5 207.07,688.8 208.44,689.19 209.84,689.61 213.0,690.0 214.43,690.1 216.06,690.21 217.87,690.32 219.82,690.42 221.88,690.53 224.04,690.64 226.25,690.74 228.49,690.84 230.74,690.94 232.96,691.03 235.12,691.11 237.2,691.18 239.17,691.25 241.0,691.3 243.39,691.38 245.66,691.48 247.85,691.59 249.95,691.7 252.0,691.77 254.01,691.82 255.99,691.8 257.98,691.72 259.97,691.56 262.0,691.3 264.04,690.91 266.06,690.38 268.07,689.74 270.07,689.04 272.06,688.29 274.05,687.53 276.03,686.79 278.02,686.1 280.0,685.49 282.0,685.0 284.02,684.61 286.08,684.3 288.16,684.04 290.24,683.83 292.31,683.65 294.36,683.49 296.37,683.34 298.32,683.18 300.2,683.01 302.0,682.8 304.4,682.46 306.62,682.11 308.73,681.74 310.76,681.39 312.79,681.05 314.85,680.75 317.0,680.5 318.96,680.36 320.95,680.3 322.97,680.29 325.0,680.29 327.03,680.27 329.05,680.19 331.04,680.01 333.0,679.7 335.22,679.14 337.45,678.4 339.66,677.54 341.83,676.64 343.96,675.75 346.02,674.95 348.0,674.3 350.17,673.75 352.22,673.33 354.19,673.01 356.11,672.71 358.03,672.39 360.0,672.0 362.02,671.55 364.07,671.08 366.12,670.59 368.15,670.07 370.12,669.51 372.0,668.9 374.02,668.04 375.81,667.06 377.59,666.05 379.58,665.1 382.0,664.3 383.75,663.89 385.62,663.53 387.6,663.2 389.69,662.91 391.88,662.65 394.16,662.42 396.54,662.2 399.0,662.0 400.9,661.88 402.92,661.8 405.06,661.74 407.26,661.7 409.5,661.67 411.75,661.64 413.97,661.6 416.14,661.55 418.22,661.47 420.19,661.36 422.0,661.2 424.55,660.87 426.84,660.48 428.94,660.03 430.92,659.54 432.87,659.03 434.87,658.51 437.0,658.0 438.96,657.6 440.95,657.24 442.97,656.89 445.0,656.52 447.03,656.11 449.05,655.6 451.04,654.98 453.0,654.2 455.22,653.06 457.45,651.68 459.66,650.15 461.83,648.55 463.96,646.96 466.02,645.48 468.0,644.2 470.17,642.96 472.22,641.88 474.19,640.91 476.11,639.99 478.03,639.04 480.0,638.0 481.92,636.94 483.74,635.91 485.56,634.86 487.48,633.73 489.59,632.47 492.0,631.0 493.85,629.85 495.92,628.55 498.15,627.15 500.46,625.68 502.79,624.2 505.07,622.74 507.25,621.36 509.25,620.1 511.0,619.0 513.3,617.61 514.83,616.75 516.21,615.99 518.06,614.88 521.0,613.0 522.53,612.01 524.25,610.91 526.13,609.72 528.15,608.43 530.28,607.08 532.5,605.65 534.76,604.17 537.06,602.65 539.36,601.1 541.63,599.53 543.84,597.95 545.97,596.37 548.0,594.8 550.16,593.03 552.36,591.12 554.59,589.1 556.81,587.02 559.02,584.91 561.19,582.81 563.29,580.76 565.3,578.79 567.2,576.94 568.96,575.25 570.57,573.76 572.0,572.5 574.26,571.07 574.69,571.67 575.77,571.49 580.0,567.7 581.3,566.41 582.77,564.94 584.4,563.29 586.17,561.48 588.08,559.53 590.09,557.46 592.2,555.28 594.4,553.0 596.66,550.65 598.97,548.24 601.31,545.78 603.68,543.28 606.05,540.78 608.4,538.28 610.74,535.79 613.02,533.34 615.26,530.93 617.41,528.59 619.48,526.33 621.45,524.17 623.29,522.12 625.0,520.2 627.65,517.12 630.1,514.16 632.36,511.29 634.47,508.52 636.47,505.83 638.38,503.21 640.24,500.66 642.07,498.17 643.91,495.72 645.8,493.31 647.75,490.92 649.81,488.56 652.0,486.2 653.87,484.32 655.79,482.5 657.76,480.74 659.77,479.02 661.8,477.35 663.85,475.7 665.92,474.07 668.0,472.45 670.08,470.84 672.15,469.22 674.2,467.6 676.23,465.95 678.24,464.28 680.21,462.56 682.13,460.81 684.0,459.0 686.24,456.73 688.43,454.43 690.57,452.1 692.68,449.75 694.75,447.38 696.8,444.97 698.83,442.54 700.84,440.09 702.86,437.61 704.87,435.1 706.9,432.56 708.94,429.99 711.0,427.4 713.06,424.78 715.11,422.15 717.14,419.49 719.16,416.81 721.18,414.1 723.2,411.37 725.24,408.6 727.29,405.8 729.36,402.96 731.46,400.09 733.6,397.17 735.78,394.21 738.0,391.2 740.0,388.49 742.1,385.62 744.27,382.63 746.49,379.54 748.76,376.4 751.04,373.23 753.33,370.06 755.6,366.93 757.84,363.86 760.02,360.89 762.13,358.05 764.15,355.37 766.07,352.88 767.86,350.61 769.5,348.6 772.47,345.22 774.82,342.87 776.76,341.24 778.53,339.96 780.35,338.73 782.43,337.18 785.0,335.0 786.76,333.41 788.64,331.7 790.63,329.89 792.7,327.99 794.84,326.03 797.03,324.02 799.24,321.99 801.46,319.94 803.67,317.9 805.84,315.88 807.96,313.91 810.0,312.0 812.23,309.91 814.52,307.74 816.85,305.53 819.18,303.3 821.49,301.1 823.74,298.94 825.9,296.87 827.94,294.91 829.82,293.09 831.52,291.44 833.0,290.0 836.33,286.72 837.89,285.09 840.0,282.8 841.69,280.95 843.56,278.84 845.56,276.56 847.67,274.22 849.83,271.9 852.0,269.7 853.89,267.91 855.84,266.15 857.83,264.4 859.86,262.67 861.91,260.95 863.96,259.23 866.0,257.5 868.01,255.78 869.99,254.1 871.97,252.42 873.98,250.73 876.05,249.01 878.21,247.24 880.5,245.4 882.42,243.88 884.47,242.27 886.61,240.6 888.8,238.9 891.0,237.21 893.17,235.56 895.25,233.99 897.21,232.52 899.0,231.2 901.28,229.55 903.19,228.23 904.91,227.08 906.65,225.94 908.61,224.67 911.0,223.1 912.69,221.98 914.52,220.77 916.47,219.48 918.52,218.13 920.62,216.74 922.76,215.34 924.89,213.95 927.0,212.58 929.04,211.26 931.0,210.0 933.12,208.65 935.24,207.3 937.35,205.97 939.44,204.67 941.49,203.39 943.48,202.16 945.41,200.98 947.25,199.85 949.0,198.8 951.31,197.41 953.28,196.24 955.09,195.18 956.94,194.14 959.02,193.01 961.5,191.7 963.23,190.83 965.1,189.94 967.08,189.02 969.15,188.07 971.28,187.09 973.45,186.08 975.63,185.03 977.8,183.93 979.93,182.79 982.0,181.6 984.02,180.35 986.03,179.02 988.04,177.64 990.04,176.21 992.03,174.75 994.02,173.27 996.02,171.78 998.01,170.3 1000.0,168.83 1002.0,167.4 1004.02,165.96 1006.06,164.48 1008.13,162.97 1010.19,161.46 1012.25,159.97 1014.29,158.5 1016.29,157.09 1018.26,155.73 1020.16,154.47 1022.0,153.3 1024.23,151.97 1026.41,150.75 1028.53,149.62 1030.59,148.59 1032.58,147.64 1034.48,146.76 1036.29,145.95 1038.0,145.2 1040.44,144.14 1042.55,143.26 1044.49,142.56 1046.42,142.04 1048.5,141.7 1050.55,141.61 1052.48,141.79 1054.52,142.09 1056.95,142.41 1060.0,142.6 1061.58,142.63 1063.21,142.65 1064.9,142.66 1066.68,142.67 1068.55,142.66 1070.55,142.65 1072.68,142.64 1074.97,142.62 1077.45,142.61 1080.11,142.6 1083.0,142.6 1084.63,142.6 1086.38,142.6 1088.22,142.6 1090.16,142.6 1092.18,142.6 1094.27,142.6 1096.41,142.6 1098.59,142.6 1100.82,142.6 1103.06,142.6 1105.32,142.6 1107.57,142.6 1109.82,142.6 1112.04,142.6 1114.22,142.6 1116.37,142.6 1118.45,142.6 1120.47,142.6 1122.41,142.6 1124.25,142.6 1126.0,142.6 1128.49,142.6 1130.87,142.59 1133.17,142.59 1135.38,142.58 1137.52,142.58 1139.57,142.57 1141.56,142.56 1143.49,142.56 1145.35,142.56 1147.17,142.56 1148.93,142.56 1150.66,142.57 1152.34,142.58 1154.0,142.6 1156.44,142.64 1158.67,142.69 1160.74,142.74 1162.69,142.8 1164.55,142.87 1166.37,142.95 1168.19,143.03 1170.05,143.11 1172.0,143.2 1173.95,143.29 1175.83,143.37 1177.67,143.46 1179.51,143.56 1181.38,143.66 1183.33,143.77 1185.4,143.9 1187.6,144.04 1190.0,144.2 1191.77,144.31 1193.63,144.42 1195.55,144.53 1197.55,144.63 1199.59,144.74 1201.69,144.86 1203.82,144.99 1205.99,145.14 1208.18,145.32 1210.38,145.51 1212.59,145.74 1214.8,146.0 1217.0,146.3 1218.93,146.59 1220.93,146.92 1222.97,147.27 1225.05,147.65 1227.15,148.04 1229.26,148.46 1231.38,148.89 1233.49,149.34 1235.58,149.79 1237.63,150.24 1239.64,150.7 1241.59,151.16 1243.48,151.62 1245.28,152.06 1247.0,152.5 1249.43,153.15 1251.72,153.82 1253.89,154.5 1255.96,155.19 1257.94,155.87 1259.84,156.56 1261.68,157.24 1263.48,157.91 1265.25,158.56 1267.0,159.2 1269.44,160.11 1271.77,161.03 1273.99,161.95 1276.11,162.83 1278.15,163.65 1280.11,164.38 1282.0,165.0 1284.36,165.6 1286.4,165.95 1288.36,166.2 1290.48,166.5 1293.0,167.0 1294.76,167.45 1296.57,167.96 1298.45,168.53 1300.44,169.13 1302.56,169.75 1304.84,170.36 1307.31,170.95 1310.0,171.5 1311.73,171.81 1313.67,172.12 1315.78,172.45 1318.01,172.77 1320.34,173.1 1322.7,173.42 1325.06,173.73 1327.38,174.03 1329.62,174.32 1331.72,174.59 1333.65,174.83 1335.37,175.05 1336.84,175.24 1338,175.4" fill="none" stroke="#deb887" stroke-width="1" shape-rendering="crispEdges"/><polyline points="0.0,714.0 1.33,715.62 3.18,717.99 5.38,720.65 7.71,723.14 10.0,725.0 11.76,726.0 13.44,726.7 15.19,727.19 17.11,727.52 19.34,727.77 22.0,728.0 23.73,728.11 25.7,728.16 27.86,728.18 30.14,728.16 32.5,728.12 34.87,728.07 37.2,728.02 39.44,727.97 41.52,727.95 43.39,727.95 45.0,728.0 48.26,728.37 50.44,728.93 52.15,729.39 54.0,729.5 56.0,729.11 57.88,728.39 59.81,727.52 62.0,726.7 63.9,726.1 65.85,725.48 67.95,724.85 70.3,724.22 73.0,723.6 74.75,723.26 76.72,722.94 78.85,722.62 81.07,722.3 83.3,721.97 85.48,721.64 87.54,721.28 89.4,720.91 91.0,720.5 93.68,719.5 95.56,718.41 97.16,717.24 99.0,716.0 101.09,714.73 103.19,713.4 105.45,711.97 108.0,710.4 109.99,709.21 112.22,707.9 114.56,706.53 116.89,705.16 119.08,703.86 121.0,702.7 123.02,701.43 124.44,700.49 126.13,699.35 129.0,697.5 130.51,696.52 132.28,695.35 134.26,694.02 136.39,692.6 138.62,691.12 140.89,689.62 143.15,688.17 145.34,686.79 147.42,685.54 149.32,684.46 151.0,683.6 153.53,682.52 155.59,681.89 157.38,681.58 159.07,681.47 160.88,681.42 163.0,681.3 164.84,681.22 166.84,681.23 168.93,681.3 171.06,681.4 173.19,681.48 175.26,681.52 177.21,681.47 179.0,681.3 181.55,680.79 183.86,680.09 185.98,679.26 188.01,678.34 190.0,677.4 192.34,676.23 194.5,674.99 196.66,673.6 199.0,672.0 201.1,670.51 203.35,668.86 205.65,667.11 207.9,665.3 210.0,663.5 212.16,661.23 214.0,658.9 216.09,656.54 219.0,654.2 220.71,653.15 222.67,652.06 224.81,650.96 227.09,649.85 229.42,648.77 231.74,647.71 233.99,646.7 236.1,645.76 238.0,644.9 240.5,643.7 242.74,642.57 244.81,641.55 246.81,640.67 248.84,639.98 251.0,639.5 253.02,639.32 255.16,639.36 257.35,639.55 259.51,639.84 261.55,640.15 263.41,640.42 265.0,640.6 267.41,640.6 268.93,640.52 271.0,641.0 272.78,641.67 274.75,642.54 276.93,643.6 279.34,644.89 282.0,646.4 283.9,647.54 286.04,648.88 288.33,650.36 290.69,651.89 293.02,653.42 295.24,654.88 297.26,656.2 299.0,657.3 301.59,658.86 303.44,659.9 305.07,660.82 307.0,662.0 308.86,663.2 310.81,664.49 312.83,665.86 314.9,667.33 317.0,668.9 319.18,670.83 321.47,673.12 323.77,675.37 325.98,677.2 328.0,678.2 330.26,677.95 332.31,676.58 334.21,674.83 336.0,673.5 338.15,672.41 340.07,671.59 342.0,671.2 343.85,671.62 345.7,672.47 348.0,672.8 349.68,672.54 351.52,672.09 353.52,671.45 355.68,670.64 358.0,669.7 359.8,668.87 361.74,667.87 363.78,666.76 365.87,665.62 367.97,664.52 370.03,663.52 372.0,662.7 374.21,662.02 376.38,661.58 378.51,661.24 380.62,660.9 382.72,660.43 384.8,659.7 386.86,658.68 388.9,657.46 390.92,656.1 392.93,654.69 394.96,653.3 397.0,652.0 399.14,650.69 401.38,649.27 403.62,647.88 405.79,646.62 407.78,645.62 409.5,645.0 412.03,644.99 413.86,646.01 415.7,647.3 417.86,648.95 420.02,650.87 422.0,652.0 423.83,651.43 426.6,649.6 428.34,648.95 430.43,648.28 432.78,647.53 435.29,646.63 437.9,645.54 440.5,644.2 442.55,642.99 444.78,641.63 447.11,640.12 449.46,638.52 451.76,636.86 453.92,635.16 455.86,633.46 457.5,631.8 460.52,627.03 462.38,622.1 464.0,618.0 465.94,615.34 468.4,611.7 470.24,608.13 472.53,603.49 474.97,598.46 477.24,593.74 479.0,590.0 482.5,581.6 483.97,577.73 485.84,572.75 487.99,566.99 490.3,560.81 492.65,554.57 494.91,548.62 496.97,543.31 498.7,539.0 501.29,533.14 503.24,529.4 504.99,526.31 507.0,522.4 508.88,518.35 510.83,514.0 512.85,509.48 514.91,504.97 517.0,500.6 519.2,496.36 521.52,492.15 523.84,488.0 526.04,483.93 528.0,480.0 530.78,473.33 533.11,466.94 535.0,462.0 538.0,457.0 539.49,455.01 541.43,452.48 543.7,449.56 546.17,446.38 548.71,443.11 551.19,439.89 553.48,436.86 555.46,434.19 557.0,432.0 558.75,427.97 561.0,423.0 562.37,420.92 564.01,418.49 565.88,415.78 567.92,412.83 570.11,409.7 572.41,406.46 574.76,403.16 577.14,399.85 579.5,396.61 581.8,393.47 584.0,390.5 586.02,387.81 588.13,385.01 590.3,382.14 592.52,379.24 594.74,376.36 596.94,373.53 599.08,370.8 601.15,368.2 603.1,365.79 604.91,363.58 606.56,361.64 608.0,360.0 611.22,356.89 613.25,355.72 614.66,355.44 616.0,355.0 617.62,354.06 620.0,353.0 621.52,352.36 623.42,351.59 625.56,350.72 627.83,349.8 630.07,348.85 632.17,347.91 634.0,347.0 636.39,345.78 638.25,344.77 640.23,343.29 643.0,340.7 644.67,338.93 646.61,336.72 648.74,334.19 650.99,331.49 653.26,328.74 655.48,326.09 657.57,323.65 659.43,321.58 661.0,320.0 664.15,317.76 666.07,317.54 668.0,317.5 670.0,317.28 672.0,317.23 675.0,316.6 676.56,316.1 678.32,315.5 680.25,314.8 682.31,314.03 684.46,313.19 686.65,312.3 688.84,311.36 691.0,310.4 692.94,309.46 694.96,308.38 697.04,307.23 699.14,306.04 701.23,304.85 703.3,303.7 705.3,302.65 707.21,301.74 709.0,301.0 711.41,300.28 713.56,299.92 715.56,299.77 717.56,299.67 719.66,299.46 722.0,299.0 723.97,298.52 726.09,298.01 728.3,297.47 730.56,296.86 732.82,296.16 735.01,295.35 737.09,294.4 739.0,293.3 741.32,291.56 743.48,289.56 745.5,287.34 747.41,284.97 749.23,282.5 751.0,280.0 753.2,276.22 755.0,272.28 757.05,268.02 760.0,263.3 761.55,261.23 763.3,259.04 765.19,256.74 767.21,254.38 769.31,251.96 771.47,249.52 773.65,247.08 775.82,244.66 777.95,242.29 780.0,240.0 782.04,237.7 784.16,235.34 786.32,232.95 788.48,230.56 790.62,228.21 792.72,225.94 794.74,223.77 796.64,221.76 798.4,219.92 800.0,218.3 802.69,215.7 804.86,213.78 806.7,212.32 808.35,211.13 810.0,210.0 812.63,208.69 814.93,207.93 817.0,206.7 819.31,203.32 822.0,199.2 823.5,197.77 825.11,196.56 826.97,195.14 829.22,193.09 832.0,190.0 833.66,187.94 835.51,185.54 837.52,182.86 839.66,179.98 841.88,176.94 844.14,173.82 846.43,170.67 848.69,167.56 850.89,164.55 853.0,161.7 855.05,158.94 857.11,156.18 859.17,153.41 861.22,150.66 863.25,147.94 865.26,145.24 867.25,142.59 869.21,139.99 871.13,137.46 873.0,135.0 875.32,131.91 877.62,128.75 879.9,125.61 882.12,122.58 884.27,119.75 886.31,117.19 888.23,115.02 890.0,113.3 892.45,111.67 894.5,111.16 896.34,111.29 898.11,111.62 900.0,111.7 902.03,111.49 904.1,111.3 906.14,111.16 908.13,111.15 910.0,111.3 912.0,111.78 913.75,112.52 915.62,113.37 918.0,114.2 919.76,114.66 921.83,115.16 924.05,115.67 926.31,116.18 928.48,116.66 930.42,117.11 932.0,117.5 934.56,118.04 937.0,119.2 938.66,120.3 940.59,121.79 942.75,123.46 945.07,125.1 947.51,126.52 950.0,127.5 951.96,127.94 954.06,128.22 956.26,128.36 958.5,128.38 960.74,128.29 962.94,128.1 965.04,127.83 967.0,127.5 969.4,126.85 971.63,125.94 973.75,124.86 975.81,123.73 977.88,122.64 980.0,121.7 982.2,120.92 984.44,120.21 986.69,119.55 988.89,118.9 991.01,118.23 993.0,117.5 995.19,116.54 997.22,115.52 999.14,114.48 1001.05,113.46 1003.0,112.5 1005.0,111.59 1007.0,110.72 1009.0,109.88 1011.0,109.07 1013.0,108.3 1015.03,107.57 1017.1,106.88 1019.14,106.22 1021.13,105.59 1023.0,105.0 1025.19,104.2 1027.25,103.39 1029.19,102.75 1031.0,102.5 1033.11,102.87 1035.0,103.8 1037.0,105.0 1039.22,106.36 1041.56,108.0 1044.0,110.0 1045.84,111.58 1047.69,113.24 1049.7,115.35 1052.0,118.3 1053.69,120.84 1055.44,123.77 1057.31,127.01 1059.33,130.5 1061.55,134.15 1064.0,137.9 1065.83,140.52 1067.83,143.32 1069.96,146.25 1072.18,149.26 1074.45,152.28 1076.7,155.28 1078.91,158.2 1081.03,160.99 1083.0,163.6 1085.35,166.66 1087.58,169.46 1089.71,172.1 1091.78,174.67 1093.83,177.27 1095.89,179.98 1098.0,182.9 1100.16,186.19 1102.34,189.8 1104.53,193.57 1106.71,197.3 1108.86,200.8 1110.96,203.9 1113.0,206.4 1115.26,208.72 1117.41,210.62 1119.5,212.06 1121.59,212.96 1123.74,213.26 1126.0,212.9 1128.09,211.81 1130.31,209.92 1132.6,207.51 1134.89,204.84 1137.09,202.17 1139.15,199.77 1141.0,197.9 1143.58,195.78 1145.62,194.39 1147.61,193.2 1150.0,191.7 1151.92,190.56 1154.0,189.49 1156.19,188.36 1158.44,187.04 1160.73,185.4 1163.0,183.3 1164.96,181.07 1166.96,178.48 1168.98,175.62 1171.02,172.59 1173.04,169.47 1175.04,166.34 1177.0,163.3 1179.26,159.61 1181.52,155.64 1183.75,151.62 1185.93,147.8 1188.02,144.41 1190.0,141.7 1192.11,139.53 1193.98,138.24 1195.78,137.46 1197.73,136.77 1200.0,135.8 1201.95,134.82 1204.15,133.73 1206.5,132.59 1208.87,131.49 1211.15,130.51 1213.23,129.72 1215.0,129.2 1217.63,128.94 1219.37,129.59 1222.0,130.8 1223.76,131.42 1225.82,132.12 1228.08,132.92 1230.43,133.84 1232.77,134.89 1235.0,136.1 1237.0,137.5 1239.47,139.79 1241.74,142.44 1243.86,145.36 1245.93,148.48 1248.0,151.7 1250.03,155.07 1251.98,158.64 1253.9,162.36 1255.89,166.17 1258.0,170.0 1259.99,173.41 1262.19,177.1 1264.44,180.83 1266.59,184.38 1268.5,187.52 1270.0,190.0 1273.0,195.0 1274.9,196.39 1277.31,197.84 1279.82,199.32 1282.0,200.8 1283.74,202.73 1285.15,204.68 1288.0,206.7 1289.59,207.48 1291.52,208.37 1293.7,209.34 1296.05,210.31 1298.46,211.23 1300.85,212.05 1303.13,212.71 1305.21,213.14 1307.0,213.3 1309.5,212.93 1311.41,211.94 1313.07,210.46 1314.82,208.67 1317.0,206.7 1318.97,205.05 1321.21,203.07 1323.6,200.9 1326.01,198.69 1328.3,196.59 1330.34,194.74 1332.0,193.3 1335.44,190.81 1337,190" fill="none" stroke="#0000ff" stroke-width="1" shape-rendering="crispEdges"/></g>
<g id="marks"><path d="M101 658h3v2h-3zM99 660h7v1h-7zM100 661h5v1h-5zM101 662h3v1h-3zM102 663h1v1h-1z" fill="#e2401a" shape-rendering="crispEdges"/><path d="M98 682h1v1h-1zM97 683h3v1h-3zM96 684h5v1h-5zM95 685h7v1h-7zM97 686h3v2h-3z" fill="#0f62b8" shape-rendering="crispEdges"/><path d="M181 628h3v2h-3zM179 630h7v1h-7zM180 631h5v1h-5zM181 632h3v1h-3zM182 633h1v1h-1z" fill="#e2401a" shape-rendering="crispEdges"/><path d="M178 660h1v1h-1zM177 661h3v1h-3zM176 662h5v1h-5zM175 663h7v1h-7zM177 664h3v2h-3z" fill="#0f62b8" shape-rendering="crispEdges"/><path d="M145 680h3v2h-3zM143 682h7v1h-7zM144 683h5v1h-5zM145 684h3v1h-3zM146 685h1v1h-1z" fill="#e2401a" shape-rendering="crispEdges"/><path d="M146 685h1v1h-1zM145 686h3v1h-3zM144 687h5v1h-5zM143 688h7v1h-7zM145 689h3v2h-3z" fill="#0f62b8" shape-rendering="crispEdges"/><path d="M157 669h3v2h-3zM155 671h7v1h-7zM156 672h5v1h-5zM157 673h3v1h-3zM158 674h1v1h-1z" fill="#e2401a" shape-rendering="crispEdges"/><path d="M158 678h1v1h-1zM157 679h3v1h-3zM156 680h5v1h-5zM155 681h7v1h-7zM157 682h3v2h-3z" fill="#0f62b8" shape-rendering="crispEdges"/><path d="M289 679h3v2h-3zM287 681h7v1h-7zM288 682h5v1h-5zM289 683h3v1h-3zM290 684h1v1h-1z" fill="#e2401a" shape-rendering="crispEdges"/><path d="M293 680h3v2h-3zM291 682h7v1h-7zM292 683h5v1h-5zM293 684h3v1h-3zM294 685h1v1h-1z" fill="#e2401a" shape-rendering="crispEdges"/><path d="M290 687h1v1h-1zM289 688h3v1h-3zM288 689h5v1h-5zM287 690h7v1h-7zM289 691h3v2h-3z" fill="#0f62b8" shape-rendering="crispEdges"/><path d="M294 690h1v1h-1zM293 691h3v1h-3zM292 692h5v1h-5zM291 693h7v1h-7zM293 694h3v2h-3z" fill="#0f62b8" shape-rendering="crispEdges"/><path d="M597 338h3v2h-3zM595 340h7v1h-7zM596 341h5v1h-5zM597 342h3v1h-3zM598 343h1v1h-1z" fill="#e2401a" shape-rendering="crispEdges"/><path d="M598 344h1v1h-1zM597 345h3v1h-3zM596 346h5v1h-5zM595 347h7v1h-7zM597 348h3v2h-3z" fill="#0f62b8" shape-rendering="crispEdges"/><path d="M613 344h3v2h-3zM611 346h7v1h-7zM612 347h5v1h-5zM613 348h3v1h-3zM614 349h1v1h-1z" fill="#e2401a" shape-rendering="crispEdges"/><path d="M614 357h1v1h-1zM613 358h3v1h-3zM612 359h5v1h-5zM611 360h7v1h-7zM613 361h3v2h-3z" fill="#0f62b8" shape-rendering="crispEdges"/><path d="M629 324h3v2h-3zM627 326h7v1h-7zM628 327h5v1h-5zM629 328h3v1h-3zM630 329h1v1h-1z" fill="#e2401a" shape-rendering="crispEdges"/><path d="M630 337h1v1h-1zM629 338h3v1h-3zM628 339h5v1h-5zM627 340h7v1h-7zM629 341h3v2h-3z" fill="#0f62b8" shape-rendering="crispEdges"/><path d="M940 122h3v2h-3zM938 124h7v1h-7zM939 125h5v1h-5zM940 126h3v1h-3zM941 127h1v1h-1z" fill="#e2401a" shape-rendering="crispEdges"/><path d="M945 123h3v2h-3zM943 125h7v1h-7zM944 126h5v1h-5zM945 127h3v1h-3zM946 128h1v1h-1z" fill="#e2401a" shape-rendering="crispEdges"/><path d="M945 128h3v2h-3zM943 130h7v1h-7zM944 131h5v1h-5zM945 132h3v1h-3zM946 133h1v1h-1z" fill="#e2401a" shape-rendering="crispEdges"/><path d="M938 133h1v1h-1zM937 134h3v1h-3zM936 135h5v1h-5zM935 136h7v1h-7zM937 137h3v2h-3z" fill="#0f62b8" shape-rendering="crispEdges"/><path d="M946 134h1v1h-1zM945 135h3v1h-3zM944 136h5v1h-5zM943 137h7v1h-7zM945 138h3v2h-3z" fill="#0f62b8" shape-rendering="crispEdges"/><path d="M946 137h1v1h-1zM945 138h3v1h-3zM944 139h5v1h-5zM943 140h7v1h-7zM945 141h3v2h-3z" fill="#0f62b8" shape-rendering="crispEdges"/><path d="M993 85h3v2h-3zM991 87h7v1h-7zM992 88h5v1h-5zM993 89h3v1h-3zM994 90h1v1h-1z" fill="#e2401a" shape-rendering="crispEdges"/><path d="M994 104h1v1h-1zM993 105h3v1h-3zM992 106h5v1h-5zM991 107h7v1h-7zM993 108h3v2h-3z" fill="#0f62b8" shape-rendering="crispEdges"/><path d="M1005 97h3v2h-3zM1003 99h7v1h-7zM1004 100h5v1h-5zM1005 101h3v1h-3zM1006 102h1v1h-1z" fill="#e2401a" shape-rendering="crispEdges"/><path d="M1006 110h1v1h-1zM1005 111h3v1h-3zM1004 112h5v1h-5zM1003 113h7v1h-7zM1005 114h3v2h-3z" fill="#0f62b8" shape-rendering="crispEdges"/><line x1="98.5" y1="681" x2="102.5" y2="666" stroke="#0f62b8" stroke-width="1" stroke-dasharray="3 2"/><line x1="178.5" y1="659" x2="182.5" y2="636" stroke="#0f62b8" stroke-width="1" stroke-dasharray="3 2"/><line x1="994.5" y1="92" x2="994.5" y2="103" stroke="#0f62b8" stroke-width="1" stroke-dasharray="3 2"/><line x1="1006.5" y1="104" x2="1006.5" y2="109" stroke="#0f62b8" stroke-width="1" stroke-dasharray="3 2"/><line x1="598.5" y1="344" x2="598.5" y2="344" stroke="#0f62b8" stroke-width="1" stroke-dasharray="3 2"/><rect x="1124.5" y="172.5" width="4" height="4" fill="#000" stroke="#f00" stroke-width="1" shape-rendering="crispEdges"/><g shape-rendering="crispEdges" fill="none" stroke="#ff0000" stroke-width="1"><path d="M0 526.5H422.5V806"/><path d="M818.5 79.5H1435.5V269.5H818.5Z"/></g><rect x="816.5" y="77.5" width="4" height="4" fill="#000" stroke="#f00" stroke-width="1" shape-rendering="crispEdges"/><rect x="1433.5" y="77.5" width="4" height="4" fill="#000" stroke="#f00" stroke-width="1" shape-rendering="crispEdges"/><rect x="816.5" y="267.5" width="4" height="4" fill="#000" stroke="#f00" stroke-width="1" shape-rendering="crispEdges"/><rect x="1433.5" y="267.5" width="4" height="4" fill="#000" stroke="#f00" stroke-width="1" shape-rendering="crispEdges"/><path d="M652.5 423.5V439.5L656.5 435.5L659.5 442.5L661.5 441.5L658.5 434.5H664.5Z" fill="#fff" stroke="#000" stroke-width="1"/></g>
<g id="frame"><g shape-rendering="crispEdges"><path d="M0 60.5H1702.5M1702.5 60V807M0 806.5H1702.5" stroke="#000" fill="none"/><path d="M1334 61H1343L1338.5 66Z" fill="#c0c0c0"/><path d="M1703 70.5H1707 M1703 102.5H1707 M1703 134.5H1707 M1703 198.5H1707 M1703 230.5H1707 M1703 262.5H1707 M1703 294.5H1707 M1703 326.5H1707 M1703 358.5H1707 M1703 390.5H1707 M1703 422.5H1707 M1703 454.5H1707 M1703 486.5H1707 M1703 518.5H1707 M1703 550.5H1707 M1703 582.5H1707 M1703 614.5H1707 M1703 646.5H1707 M1703 678.5H1707 M1703 710.5H1707 M1703 742.5H1707 M1703 774.5H1707" stroke="#000"/><path d="M34.5 807V810 M98.5 807V810 M162.5 807V810 M226.5 807V810 M290.5 807V810 M354.5 807V810 M418.5 807V810 M482.5 807V810 M546.5 807V810 M610.5 807V810 M674.5 807V810 M738.5 807V810 M802.5 807V810 M866.5 807V810 M930.5 807V810 M994.5 807V810 M1058.5 807V810 M1122.5 807V810 M1186.5 807V810 M1250.5 807V810 M1314.5 807V810" stroke="#000"/></g><g font-size="9.9" fill="#000" stroke="#000" stroke-width="0.2" font-family="Liberation Sans, sans-serif"><text x="1708" y="74" textLength="37" lengthAdjust="spacingAndGlyphs">4149.400</text><text x="1708" y="106" textLength="37" lengthAdjust="spacingAndGlyphs">4141.350</text><text x="1708" y="138" textLength="37" lengthAdjust="spacingAndGlyphs">4133.300</text><text x="1708" y="202" textLength="37" lengthAdjust="spacingAndGlyphs">4117.200</text><text x="1708" y="234" textLength="37" lengthAdjust="spacingAndGlyphs">4109.150</text><text x="1708" y="266" textLength="37" lengthAdjust="spacingAndGlyphs">4101.100</text><text x="1708" y="298" textLength="37" lengthAdjust="spacingAndGlyphs">4093.050</text><text x="1708" y="330" textLength="37" lengthAdjust="spacingAndGlyphs">4085.000</text><text x="1708" y="362" textLength="37" lengthAdjust="spacingAndGlyphs">4076.950</text><text x="1708" y="394" textLength="37" lengthAdjust="spacingAndGlyphs">4068.900</text><text x="1708" y="426" textLength="37" lengthAdjust="spacingAndGlyphs">4060.850</text><text x="1708" y="458" textLength="37" lengthAdjust="spacingAndGlyphs">4052.800</text><text x="1708" y="490" textLength="37" lengthAdjust="spacingAndGlyphs">4044.750</text><text x="1708" y="522" textLength="37" lengthAdjust="spacingAndGlyphs">4036.700</text><text x="1708" y="554" textLength="37" lengthAdjust="spacingAndGlyphs">4028.650</text><text x="1708" y="586" textLength="37" lengthAdjust="spacingAndGlyphs">4020.600</text><text x="1708" y="618" textLength="37" lengthAdjust="spacingAndGlyphs">4012.550</text><text x="1708" y="650" textLength="37" lengthAdjust="spacingAndGlyphs">4004.500</text><text x="1708" y="682" textLength="37" lengthAdjust="spacingAndGlyphs">3996.450</text><text x="1708" y="714" textLength="37" lengthAdjust="spacingAndGlyphs">3988.400</text><text x="1708" y="746" textLength="37" lengthAdjust="spacingAndGlyphs">3980.350</text><text x="1708" y="778" textLength="37" lengthAdjust="spacingAndGlyphs">3972.300</text><text x="-30" y="819" textLength="51" lengthAdjust="spacingAndGlyphs">6 Nov 16:30</text><text x="34" y="819" textLength="51" lengthAdjust="spacingAndGlyphs">6 Nov 20:30</text><text x="98" y="819" textLength="51" lengthAdjust="spacingAndGlyphs">7 Nov 01:30</text><text x="162" y="819" textLength="51" lengthAdjust="spacingAndGlyphs">7 Nov 05:30</text><text x="226" y="819" textLength="51" lengthAdjust="spacingAndGlyphs">7 Nov 09:30</text><text x="290" y="819" textLength="51" lengthAdjust="spacingAndGlyphs">7 Nov 13:30</text><text x="354" y="819" textLength="51" lengthAdjust="spacingAndGlyphs">7 Nov 17:30</text><text x="418" y="819" textLength="51" lengthAdjust="spacingAndGlyphs">7 Nov 21:30</text><text x="482" y="819" textLength="56" lengthAdjust="spacingAndGlyphs">10 Nov 02:30</text><text x="546" y="819" textLength="56" lengthAdjust="spacingAndGlyphs">10 Nov 06:30</text><text x="610" y="819" textLength="56" lengthAdjust="spacingAndGlyphs">10 Nov 10:30</text><text x="674" y="819" textLength="56" lengthAdjust="spacingAndGlyphs">10 Nov 14:30</text><text x="738" y="819" textLength="56" lengthAdjust="spacingAndGlyphs">10 Nov 18:30</text><text x="802" y="819" textLength="56" lengthAdjust="spacingAndGlyphs">10 Nov 23:30</text><text x="866" y="819" textLength="56" lengthAdjust="spacingAndGlyphs">11 Nov 03:30</text><text x="930" y="819" textLength="56" lengthAdjust="spacingAndGlyphs">11 Nov 07:30</text><text x="994" y="819" textLength="56" lengthAdjust="spacingAndGlyphs">11 Nov 11:30</text><text x="1058" y="819" textLength="56" lengthAdjust="spacingAndGlyphs">11 Nov 15:30</text><text x="1122" y="819" textLength="56" lengthAdjust="spacingAndGlyphs">11 Nov 19:30</text><text x="1186" y="819" textLength="56" lengthAdjust="spacingAndGlyphs">12 Nov 00:30</text><text x="1250" y="819" textLength="56" lengthAdjust="spacingAndGlyphs">12 Nov 04:30</text><text x="1314" y="819" textLength="56" lengthAdjust="spacingAndGlyphs">12 Nov 08:30</text></g><rect x="1705" y="160" width="44" height="12" fill="#c0c0c0"/><text x="1708" y="170" font-size="9.9" fill="#fff" textLength="37" lengthAdjust="spacingAndGlyphs" font-family="Liberation Sans, sans-serif">4125.210</text><rect x="0" y="828" width="1760" height="12" fill="#f0f0f0"/><g shape-rendering="crispEdges"><path d="M0 827.5H787.5V840M878.5 840V827.5H1760" stroke="#000" fill="none"/><rect x="788" y="827" width="90" height="13" fill="#fff"/><path d="M5.5 830V840 M94.5 830V840 M179.5 830V840 M271.5 830V840 M365.5 830V840 M446.5 830V840 M527.5 830V840 M616.5 830V840 M701.5 830V840" stroke="#6a6a6a"/></g><g font-size="12.5" fill="#707070" font-family="Liberation Sans, sans-serif"><text x="17" y="842" textLength="65" lengthAdjust="spacingAndGlyphs">USDJPY M15</text><text x="106" y="842" textLength="57" lengthAdjust="spacingAndGlyphs">EURUSD H4</text><text x="191" y="842" textLength="68" lengthAdjust="spacingAndGlyphs">EURUSD M15</text><text x="284" y="842" textLength="68" lengthAdjust="spacingAndGlyphs">EURUSD M15</text><text x="377" y="842" textLength="57" lengthAdjust="spacingAndGlyphs">EURJPY H4</text><text x="458" y="842" textLength="56" lengthAdjust="spacingAndGlyphs">EURJPY H1</text><text x="539" y="842" textLength="65" lengthAdjust="spacingAndGlyphs">EURJPY M15</text><text x="627" y="842" textLength="63" lengthAdjust="spacingAndGlyphs">XAUUSD H4</text><text x="712" y="842" textLength="62" lengthAdjust="spacingAndGlyphs">XAUUSD H1</text></g><text x="797.5" y="842" font-size="12.5" fill="#1a1a3a" textLength="71" lengthAdjust="spacingAndGlyphs" font-family="Liberation Sans, sans-serif">XAUUSD M15</text><path d="M1726 834V840L1723 837Z M1744 834V840L1747 837Z" fill="#a8a8a8"/><rect x="0" y="65" width="37" height="12" fill="#fff"/><text x="-3.5" y="75.3" font-size="10.5" fill="#000" textLength="39" lengthAdjust="spacingAndGlyphs" font-family="Liberation Sans, sans-serif">US Dollar</text><defs><linearGradient id="bg" x1="0" y1="0" x2="0" y2="1"><stop offset="0" stop-color="#5050f8"/><stop offset="0.45" stop-color="#2a2ae0"/><stop offset="1" stop-color="#0000b8"/></linearGradient></defs><rect x="0" y="82" width="33" height="57" fill="url(#bg)"/><rect x="0" y="103.5" width="29" height="1" fill="#8080ff"/><text x="-1" y="97" font-size="11" fill="#fff" font-family="Liberation Sans, sans-serif">BUY</text><text x="-2" y="133" font-size="29" fill="#fff" font-family="Liberation Sans, sans-serif">2</text><text x="18" y="120" font-size="11" fill="#fff" font-family="Liberation Sans, sans-serif">2</text></g>
</svg>
</body></html>
